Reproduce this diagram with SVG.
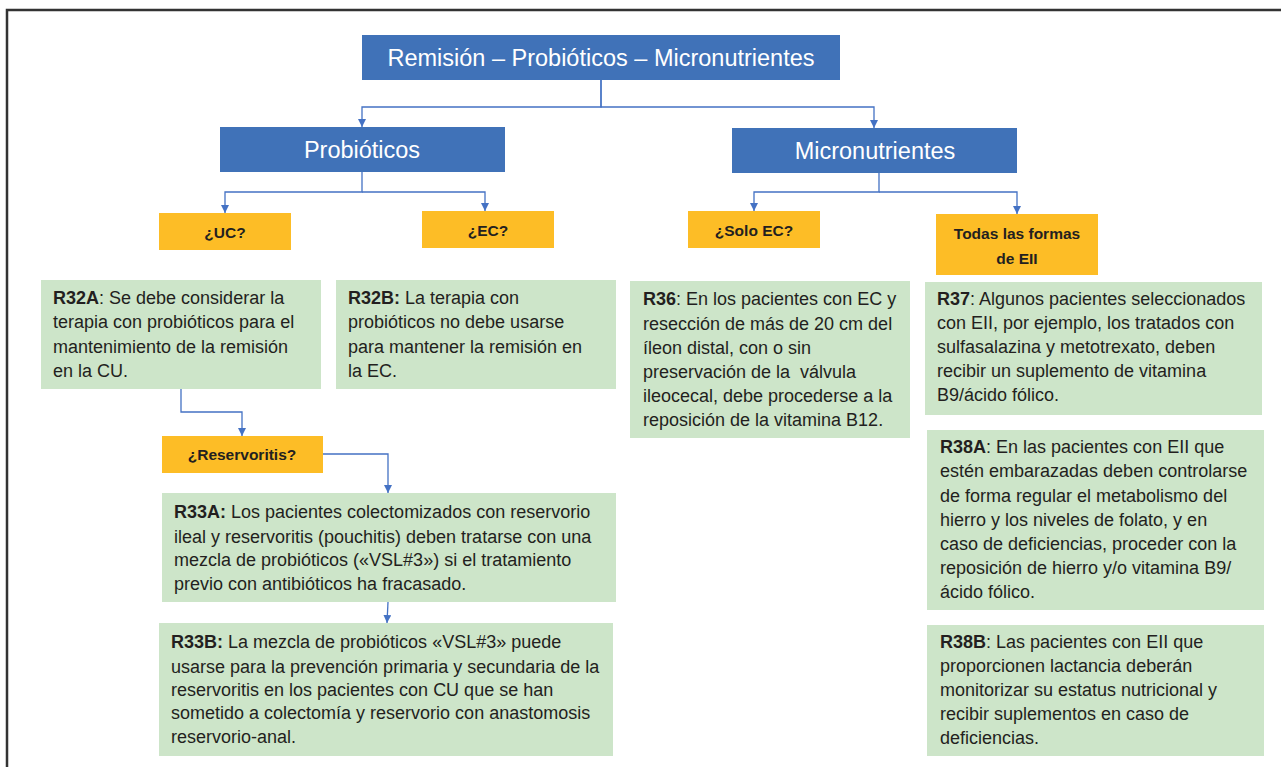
<svg xmlns="http://www.w3.org/2000/svg" width="1281" height="767" viewBox="0 0 1281 767">
<style>
.blue{fill:#4072b8}
.yel{fill:#fdbd26}
.grn{fill:#cde5c9}
.ht{font-family:"Liberation Sans",Arial,sans-serif;font-size:23.5px;fill:#ffffff;text-anchor:middle}
.yt{font-family:"Liberation Sans",Arial,sans-serif;font-size:15.5px;font-weight:bold;fill:#231f20;text-anchor:middle}
.bt{font-family:"Liberation Sans",Arial,sans-serif;font-size:18px;fill:#231f20}
.b{font-weight:bold}
.con{fill:none;stroke:#4472c4;stroke-width:1.3}
</style>
<defs>
<marker id="ah" viewBox="0 0 10 10" refX="10" refY="5" markerWidth="8" markerHeight="8" markerUnits="userSpaceOnUse" orient="auto">
<path d="M0,0 L10,5 L0,10 Z" fill="#4472c4"/>
</marker>
</defs>
<rect width="1281" height="767" fill="#ffffff"/>
<path d="M7,767 V10 H1281" fill="none" stroke="#333333" stroke-width="2.5"/>

<g id="connectors">
<path class="con" d="M601,80 V107 H362 V127" marker-end="url(#ah)"/>
<path class="con" d="M601,80 V107 H874 V128" marker-end="url(#ah)"/>
<path class="con" d="M362,172 V192 H225 V213" marker-end="url(#ah)"/>
<path class="con" d="M362,192 H485 V211" marker-end="url(#ah)"/>
<path class="con" d="M879,173 V192 H754 V211" marker-end="url(#ah)"/>
<path class="con" d="M879,192 H1017 V214" marker-end="url(#ah)"/>
<path class="con" d="M181,389 V412 H242 V436" marker-end="url(#ah)"/>
<path class="con" d="M323,454 H388 V493" marker-end="url(#ah)"/>
<path class="con" d="M388,602 L387,623" marker-end="url(#ah)"/>
</g>

<g id="title">
<rect class="blue" x="362" y="35" width="478" height="45"/>
<text class="ht" x="601" y="66">Remisión – Probióticos – Micronutrientes</text>
</g>
<g id="probioticos">
<rect class="blue" x="220" y="127" width="285" height="45"/>
<text class="ht" x="362" y="158">Probióticos</text>
</g>
<g id="micronutrientes">
<rect class="blue" x="732" y="128" width="285" height="45"/>
<text class="ht" x="875" y="159">Micronutrientes</text>
</g>

<g id="uc">
<rect class="yel" x="159" y="213" width="132" height="37"/>
<text class="yt" x="225" y="238">¿UC?</text>
</g>
<g id="ec">
<rect class="yel" x="422" y="211" width="132" height="37"/>
<text class="yt" x="488" y="236">¿EC?</text>
</g>
<g id="soloec">
<rect class="yel" x="688" y="211" width="132" height="37"/>
<text class="yt" x="754" y="236">¿Solo EC?</text>
</g>
<g id="todas">
<rect class="yel" x="936" y="214" width="162" height="61"/>
<text class="yt" x="1017" y="239">Todas las formas</text>
<text class="yt" x="1017" y="264">de EII</text>
</g>

<g id="r32a">
<rect class="grn" x="41" y="280" width="280" height="109"/>
<text class="bt" x="53" y="304"><tspan class="b">R32A</tspan>: Se debe considerar la</text>
<text class="bt" x="53" y="328">terapia con probióticos para el</text>
<text class="bt" x="53" y="353">mantenimiento de la remisión</text>
<text class="bt" x="53" y="377">en la CU.</text>
</g>
<g id="r32b">
<rect class="grn" x="336" y="280" width="280" height="109"/>
<text class="bt" x="348" y="304"><tspan class="b">R32B:</tspan> La terapia con</text>
<text class="bt" x="348" y="328">probióticos no debe usarse</text>
<text class="bt" x="348" y="353">para mantener la remisión en</text>
<text class="bt" x="348" y="377">la EC.</text>
</g>
<g id="r36">
<rect class="grn" x="630" y="281" width="280" height="157"/>
<text class="bt" x="643" y="305"><tspan class="b">R36</tspan>: En los pacientes con EC y</text>
<text class="bt" x="643" y="330">resección de más de 20 cm del</text>
<text class="bt" x="643" y="354">íleon distal, con o sin</text>
<text class="bt" x="643" y="378" xml:space="preserve">preservación de la  válvula</text>
<text class="bt" x="643" y="402">ileocecal, debe procederse a la</text>
<text class="bt" x="643" y="426">reposición de la vitamina B12.</text>
</g>
<g id="r37">
<rect class="grn" x="925" y="282" width="337" height="133"/>
<text class="bt" x="937" y="305"><tspan class="b">R37</tspan>: Algunos pacientes seleccionados</text>
<text class="bt" x="937" y="329">con EII, por ejemplo, los tratados con</text>
<text class="bt" x="937" y="353">sulfasalazina y metotrexato, deben</text>
<text class="bt" x="937" y="377">recibir un suplemento de vitamina</text>
<text class="bt" x="937" y="401">B9/ácido fólico.</text>
</g>
<g id="r38a">
<rect class="grn" x="927" y="430" width="337" height="180"/>
<text class="bt" x="940" y="453"><tspan class="b">R38A</tspan>: En las pacientes con EII que</text>
<text class="bt" x="940" y="477">estén embarazadas deben controlarse</text>
<text class="bt" x="940" y="502">de forma regular el metabolismo del</text>
<text class="bt" x="940" y="526">hierro y los niveles de folato, y en</text>
<text class="bt" x="940" y="550">caso de deficiencias, proceder con la</text>
<text class="bt" x="940" y="574">reposición de hierro y/o vitamina B9/</text>
<text class="bt" x="940" y="598">ácido fólico.</text>
</g>
<g id="r38b">
<rect class="grn" x="927" y="625" width="337" height="131"/>
<text class="bt" x="940" y="648"><tspan class="b">R38B</tspan>: Las pacientes con EII que</text>
<text class="bt" x="940" y="672">proporcionen lactancia deberán</text>
<text class="bt" x="940" y="696">monitorizar su estatus nutricional y</text>
<text class="bt" x="940" y="720">recibir suplementos en caso de</text>
<text class="bt" x="940" y="744">deficiencias.</text>
</g>
<g id="reservoritis">
<rect class="yel" x="162" y="436" width="161" height="37"/>
<text class="yt" x="242" y="460">¿Reservoritis?</text>
</g>
<g id="r33a">
<rect class="grn" x="162" y="493" width="454" height="109"/>
<text class="bt" x="174" y="518"><tspan class="b">R33A:</tspan> Los pacientes colectomizados con reservorio</text>
<text class="bt" x="174" y="543">ileal y reservoritis (pouchitis) deben tratarse con una</text>
<text class="bt" x="174" y="566">mezcla de probióticos («VSL#3») si el tratamiento</text>
<text class="bt" x="174" y="590">previo con antibióticos ha fracasado.</text>
</g>
<g id="r33b">
<rect class="grn" x="159" y="623" width="454" height="133"/>
<text class="bt" x="171" y="648"><tspan class="b">R33B:</tspan> La mezcla de probióticos «VSL#3» puede</text>
<text class="bt" x="171" y="673">usarse para la prevención primaria y secundaria de la</text>
<text class="bt" x="171" y="696">reservoritis en los pacientes con CU que se han</text>
<text class="bt" x="171" y="719">sometido a colectomía y reservorio con anastomosis</text>
<text class="bt" x="171" y="743">reservorio-anal.</text>
</g>
</svg>
